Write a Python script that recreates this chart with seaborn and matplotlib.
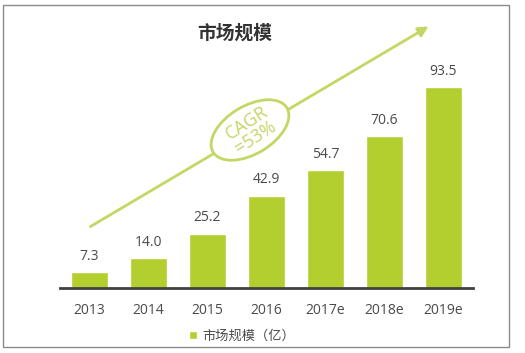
import matplotlib
matplotlib.use("Agg")
import matplotlib.pyplot as plt
import seaborn as sns
import pandas as pd
from matplotlib.patches import Ellipse, Rectangle, FancyArrowPatch

# ===== DATA =====
years = ["2013", "2014", "2015", "2016", "2017e", "2018e", "2019e"]
market_size = [7.3, 14.0, 25.2, 42.9, 54.7, 70.6, 93.5]
series_name = "市场规模（亿）"
title = "市场规模"
cagr_text = "CAGR\n=53%"

df = pd.DataFrame({"year": years, "size": market_size})

bar_green = "#b3cf2f"
line_green = "#c2d865"
text_gray = "#4a4a4a"

sns.set_style("white")
plt.rcParams["font.family"] = ["Open Sans", "Noto Sans CJK SC", "DejaVu Sans"]

fig = plt.figure(figsize=(5.25, 3.53), dpi=100)
ax = fig.add_axes([60 / 525, 65 / 353, 413 / 525, 258 / 353])

sns.barplot(data=df, x="year", y="size", color=bar_green, width=0.63,
            saturation=1, ax=ax, label=series_name)

for i, v in enumerate(market_size):
    ax.annotate(f"{v:.1f}", (i, v), xytext=(0, 6), textcoords="offset points",
                ha="center", va="bottom", fontsize=10, color=text_gray)

ax.set_xlim(-0.5, 6.5)
ax.set_ylim(0, 120)
ax.set_xlabel("")
ax.set_ylabel("")
ax.set_yticks([])
ax.tick_params(axis="x", length=0, pad=11, labelsize=10, labelcolor=text_gray)
for s in ["top", "left", "right"]:
    ax.spines[s].set_visible(False)
ax.spines["bottom"].set_color("#404040")
ax.spines["bottom"].set_linewidth(2)
if ax.legend_:
    ax.legend_.remove()

handles, labels = ax.get_legend_handles_labels()
leg = fig.legend(handles[:1], [series_name], loc="center",
                 bbox_to_anchor=(242 / 525, 1 - 336 / 353), frameon=False,
                 handlelength=0.55, handleheight=0.55, handletextpad=0.4,
                 prop={"family": ["Noto Sans CJK SC"], "size": 9.5})
for t in leg.get_texts():
    t.set_color(text_gray)

# ===== DECORATION (pixel overlay) =====
ov = fig.add_axes([0, 0, 1, 1], zorder=5)
ov.set_xlim(0, 525)
ov.set_ylim(353, 0)
ov.axis("off")
ov.patch.set_alpha(0)

ov.add_patch(Rectangle((3, 5), 506, 342, fill=False, edgecolor="#8a8a8a", lw=1))
ov.text(235, 33, title, ha="center", va="center", fontsize=13.5,
        fontweight="bold", color="#333333", family=["Noto Sans CJK SC"])

ov.add_patch(FancyArrowPatch((88, 228), (431, 25), arrowstyle="-|>,head_length=4,head_width=2",
                             color=line_green, lw=2, mutation_scale=1.5))
ov.add_patch(Ellipse((250, 130), 86, 48, angle=-31, facecolor="white",
                     edgecolor=line_green, lw=2))
ov.text(251, 130, cagr_text, ha="center", va="center", rotation=33,
        fontsize=13, color=line_green, linespacing=0.9)

fig.savefig("out.png", dpi=100)
